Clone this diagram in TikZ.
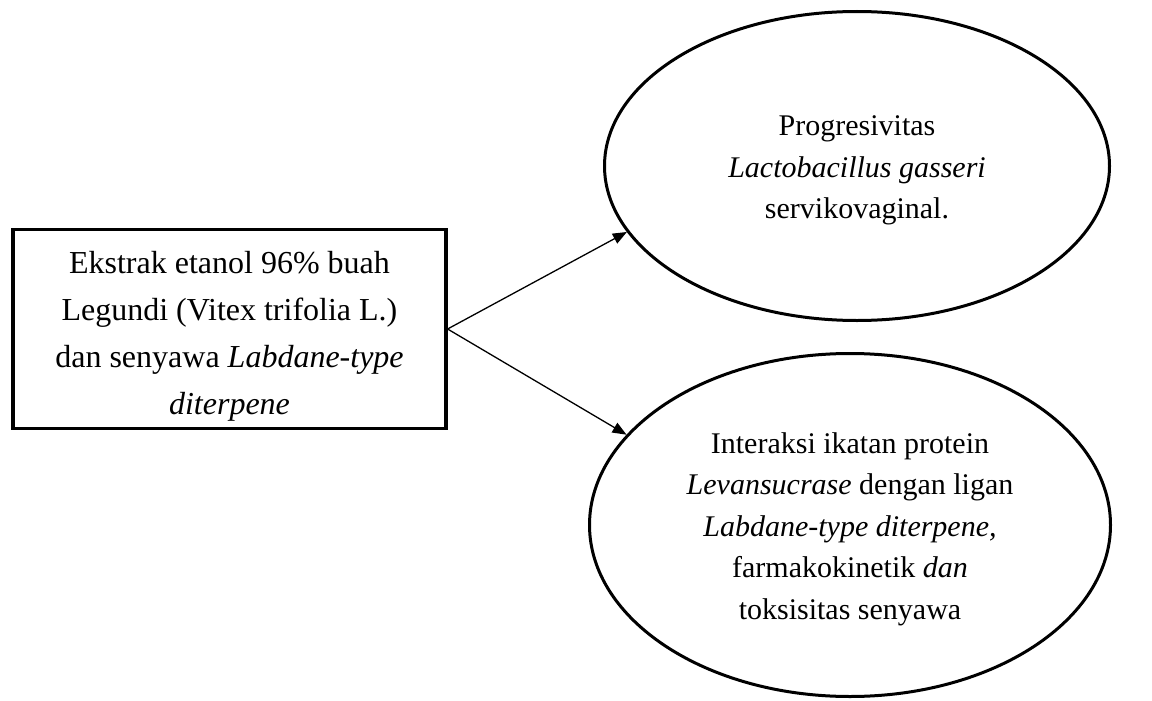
\documentclass[tikz,border=0pt]{standalone}
\usepackage{fontspec}
\setmainfont{Liberation Serif}
\usetikzlibrary{shapes.geometric,arrows.meta}
\newcommand{\topstrut}[1]{\rule{0pt}{#1}}
\begin{document}
\begin{tikzpicture}[x=1pt,y=-1pt,
  boxstyle/.style={draw,line width=3.2pt,minimum width=433pt,minimum height=199pt,inner sep=0pt,align=center,font=\fontsize{32}{47}\selectfont},
  ellstyle/.style={draw,ellipse,line width=3pt,inner sep=0pt,align=center,font=\fontsize{30}{41.5}\selectfont},
  arr/.style={line width=1.3pt,-{Triangle[length=14pt,width=11pt]}}]
\useasboundingbox (0,0) rectangle (1152,701);
\node[boxstyle] (box) at (229.5,329) {\topstrut{36pt}Ekstrak etanol 96\% buah\\Legundi (Vitex trifolia L.)\\dan senyawa \textit{Labdane-type}\\\textit{diterpene}};
\node[ellstyle,minimum width=505pt,minimum height=309pt] (e1) at (857,166) {\topstrut{29pt}Progresivitas\\\textit{Lactobacillus gasseri}\\servikovaginal.};
\node[ellstyle,minimum width=521pt,minimum height=343pt] (e2) at (850,525) {\topstrut{29pt}Interaksi ikatan protein\\\textit{Levansucrase} dengan ligan\\\textit{Labdane-type diterpene,}\\farmakokinetik \textit{dan}\\toksisitas senyawa};
\draw[arr] (box.east) -- (e1.196);
\draw[arr] (box.east) -- (e2.158);
\end{tikzpicture}
\end{document}
